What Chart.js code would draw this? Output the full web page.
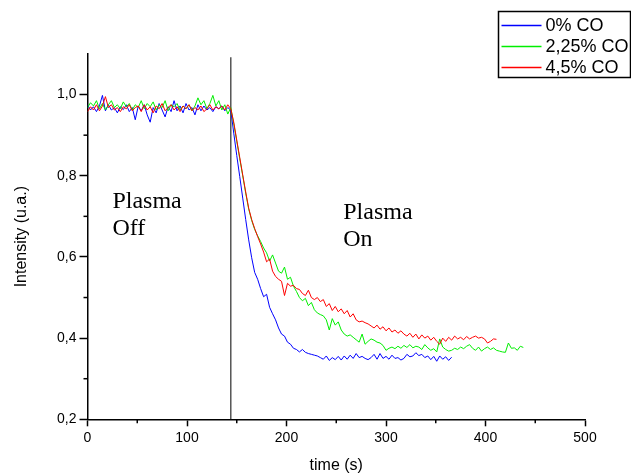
<!DOCTYPE html>
<html>
<head>
<meta charset="utf-8">
<script src="https://cdn.jsdelivr.net/npm/chart.js@4.4.1/dist/chart.umd.min.js"></script>
<style>
  html, body { margin: 0; padding: 0; background: #fff; }
  canvas { display: block; }
</style>
</head>
<body>
<canvas id="myChart" width="631" height="475"></canvas>
<script>
// sample times (s), shared by the three runs
var times = [
    0, 3, 6, 9, 12, 15, 18, 21, 24, 27,
    30, 33, 36, 39, 42, 45, 48, 51, 54, 57,
    60, 63, 66, 69, 72, 75, 78, 81, 84, 87,
    90, 93, 96, 99, 102, 105, 108, 111, 114, 117,
    120, 123, 126, 129, 132, 135, 138, 141, 144, 147,
    150, 153, 156, 159, 162, 165, 168, 171, 174, 177,
    180, 183, 186, 189, 192, 195, 198, 201, 204, 207,
    210, 213, 216, 219, 222, 225, 228, 231, 234, 237,
    240, 243, 246, 249, 252, 255, 258, 261, 264, 267,
    270, 273, 276, 279, 282, 285, 288, 291, 294, 297,
    300, 303, 306, 309, 312, 315, 318, 321, 324, 327,
    330, 333, 336, 339, 342, 345, 348, 351, 354, 357,
    360, 363, 366, 369, 372, 375, 378, 381, 384, 387,
    390, 393, 396, 399, 402, 405, 408, 411, 414, 417,
    420, 423, 426, 429, 432, 435, 438
];

var co0 = [
    0.975, 0.962, 0.970, 0.958, 0.972, 0.998, 0.960, 0.975, 0.962, 0.968,
    0.955, 0.970, 0.963, 0.975, 0.958, 0.968, 0.938, 0.972, 0.960, 0.975,
    0.950, 0.932, 0.968, 0.955, 0.978, 0.962, 0.945, 0.970, 0.958, 0.985,
    0.960, 0.972, 0.955, 0.978, 0.962, 0.968, 0.950, 0.975, 0.960, 0.972,
    0.962, 0.968, 0.958, 0.970, 0.965, 0.972, 0.960, 0.968, 0.962, 0.905,
    0.850, 0.798, 0.745, 0.692, 0.642, 0.598, 0.562, 0.545, 0.522, 0.502,
    0.508, 0.476, 0.460, 0.445, 0.425, 0.410, 0.405, 0.390, 0.385, 0.375,
    0.372, 0.366, 0.372, 0.365, 0.362, 0.360, 0.358, 0.356, 0.352, 0.348,
    0.356, 0.345, 0.352, 0.347, 0.355, 0.346, 0.356, 0.348, 0.358, 0.350,
    0.362, 0.352, 0.355, 0.350, 0.347, 0.352, 0.360, 0.348, 0.362, 0.350,
    0.355, 0.348, 0.358, 0.350, 0.352, 0.346, 0.350, 0.360, 0.354, 0.356,
    0.364, 0.357, 0.360, 0.352, 0.356, 0.347, 0.355, 0.343, 0.356, 0.348,
    0.354, 0.345, 0.353
];

var co225 = [
    0.968, 0.980, 0.972, 0.985, 0.965, 0.978, 0.962, 0.975, 0.985, 0.968,
    0.975, 0.965, 0.982, 0.970, 0.978, 0.962, 0.975, 0.968, 0.985, 0.965,
    0.978, 0.970, 0.982, 0.962, 0.975, 0.968, 0.985, 0.960, 0.975, 0.970,
    0.978, 0.962, 0.972, 0.965, 0.975, 0.960, 0.972, 0.992, 0.975, 0.985,
    0.965, 0.978, 0.998, 0.972, 0.985, 0.962, 0.975, 0.952, 0.968, 0.928,
    0.885, 0.842, 0.800, 0.757, 0.718, 0.690, 0.668, 0.652, 0.638, 0.622,
    0.610, 0.590, 0.605, 0.585, 0.565, 0.560, 0.575, 0.545, 0.550, 0.528,
    0.515, 0.500, 0.492, 0.498, 0.480, 0.488, 0.470, 0.462, 0.458, 0.455,
    0.445, 0.420, 0.448, 0.432, 0.440, 0.420, 0.410, 0.405, 0.408, 0.402,
    0.396, 0.390, 0.410, 0.385, 0.392, 0.398, 0.395, 0.390, 0.388, 0.382,
    0.370, 0.375, 0.378, 0.374, 0.380, 0.375, 0.382, 0.377, 0.384, 0.376,
    0.380, 0.378, 0.372, 0.384, 0.376, 0.370, 0.374, 0.366, 0.398, 0.378,
    0.372, 0.368, 0.370, 0.375, 0.372, 0.378, 0.374, 0.380, 0.384, 0.375,
    0.370, 0.378, 0.368, 0.374, 0.378, 0.372, 0.376, 0.370, 0.368, 0.366,
    0.365, 0.388, 0.375, 0.376, 0.370, 0.380, 0.377
];

var co45 = [
    0.958, 0.970, 0.962, 0.975, 0.960, 0.972, 0.995, 0.968, 0.975, 0.962,
    0.968, 0.958, 0.970, 0.965, 0.975, 0.960, 0.968, 0.972, 0.958, 0.975,
    0.962, 0.970, 0.955, 0.972, 0.965, 0.978, 0.960, 0.968, 0.975, 0.962,
    0.970, 0.958, 0.972, 0.965, 0.975, 0.960, 0.968, 0.962, 0.972, 0.958,
    0.965, 0.975, 0.962, 0.970, 0.965, 0.972, 0.962, 0.975, 0.965, 0.932,
    0.888, 0.845, 0.802, 0.760, 0.720, 0.692, 0.670, 0.650, 0.632, 0.612,
    0.588, 0.595, 0.565, 0.552, 0.545, 0.540, 0.505, 0.535, 0.528, 0.530,
    0.522, 0.520, 0.510, 0.505, 0.518, 0.500, 0.495, 0.500, 0.490, 0.495,
    0.478, 0.485, 0.468, 0.478, 0.465, 0.472, 0.460, 0.468, 0.452, 0.460,
    0.445, 0.440, 0.442, 0.438, 0.435, 0.430, 0.425, 0.432, 0.422, 0.428,
    0.418, 0.425, 0.415, 0.420, 0.412, 0.418, 0.410, 0.405, 0.412, 0.402,
    0.410, 0.398, 0.408, 0.400, 0.405, 0.395, 0.402, 0.392, 0.385, 0.400,
    0.392, 0.402, 0.395, 0.405, 0.398, 0.402, 0.396, 0.404, 0.398, 0.402,
    0.405, 0.400, 0.402, 0.398, 0.388, 0.392, 0.398, 0.397
];

var seriesLabels = ['0% CO', '2,25% CO', '4,5% CO'];
var seriesColors = ['#0000ff', '#00ee00', '#ff0000'];

// plasma switched on at t = 144 s
var plasmaOnTime = 144;
var markerRange = [0.2, 1.092];

var xTicks = [0, 100, 200, 300, 400, 500];
var xMinorTicks = [50, 150, 250, 350, 450];
var yTicks = [0.2, 0.4, 0.6, 0.8, 1.0];
var yMinorTicks = [0.3, 0.5, 0.7, 0.9];

var notes = [
    {lines: ['Plasma', 'Off'], t: 25, v: 0.72},
    {lines: ['Plasma', 'On'], t: 257, v: 0.694}
];

function toPoints(values) {
    return values.map(function (v, i) {
        return {x: times[i], y: v};
    });
}

var sansFont = "'Liberation Sans', Arial, sans-serif";

// minor ticks, text notes and the boxed legend, Origin style
var decorations = {
    id: 'decorations',
    afterDraw: function (chart) {
        var ctx = chart.ctx;
        var xs = chart.scales.x, ys = chart.scales.y;
        var area = chart.chartArea;
        ctx.save();
        ctx.strokeStyle = '#000';
        ctx.lineWidth = 1.5;
        xMinorTicks.forEach(function (t) {
            var px = xs.getPixelForValue(t);
            ctx.beginPath();
            ctx.moveTo(px, area.bottom);
            ctx.lineTo(px, area.bottom + 4);
            ctx.stroke();
        });
        yMinorTicks.forEach(function (v) {
            var py = ys.getPixelForValue(v);
            ctx.beginPath();
            ctx.moveTo(area.left, py);
            ctx.lineTo(area.left - 4, py);
            ctx.stroke();
        });

        ctx.fillStyle = '#000';
        ctx.font = "24px 'Liberation Serif', 'Times New Roman', serif";
        ctx.textBaseline = 'alphabetic';
        ctx.textAlign = 'left';
        notes.forEach(function (n) {
            var px = xs.getPixelForValue(n.t);
            var py = ys.getPixelForValue(n.v);
            n.lines.forEach(function (line, k) {
                ctx.fillText(line, px, py + k * 27);
            });
        });

        // legend box
        var bx = 498.5, by = 11.5, bw = 132, bh = 66;
        ctx.lineWidth = 1.5;
        ctx.strokeStyle = '#000';
        ctx.strokeRect(bx, by, bw, bh);
        ctx.font = '18px ' + sansFont;
        ctx.textBaseline = 'middle';
        seriesLabels.forEach(function (label, i) {
            var ry = by + 14 + i * 21;
            ctx.beginPath();
            ctx.strokeStyle = seriesColors[i];
            ctx.lineWidth = 1.5;
            ctx.moveTo(bx + 3, ry);
            ctx.lineTo(bx + 43, ry);
            ctx.stroke();
            ctx.fillStyle = '#000';
            ctx.fillText(label, bx + 47, ry + 1);
        });
        ctx.restore();
    }
};

var ctx = document.getElementById('myChart').getContext('2d');
var myChart = new Chart(ctx, {
    type: 'line',
    data: {
        datasets: [{
                label: seriesLabels[0],
                data: toPoints(co0),
                borderColor: seriesColors[0],
                borderWidth: 1,
                order: 3
            }, {
                label: seriesLabels[1],
                data: toPoints(co225),
                borderColor: seriesColors[1],
                borderWidth: 1,
                order: 2
            }, {
                label: seriesLabels[2],
                data: toPoints(co45),
                borderColor: seriesColors[2],
                borderWidth: 1,
                order: 1
            }, {
                label: 'plasma on',
                data: [{x: plasmaOnTime, y: markerRange[0]}, {x: plasmaOnTime, y: markerRange[1]}],
                borderColor: '#555555',
                borderWidth: 1.5,
                order: 4
            }]
    },
    options: {
        responsive: false,
        animation: false,
        devicePixelRatio: 1,
        layout: {
            padding: {left: 0, top: 54, right: 46, bottom: 0}
        },
        elements: {
            point: {radius: 0},
            line: {tension: 0, fill: false}
        },
        scales: {
            x: {
                type: 'linear',
                min: 0,
                max: 500,
                afterBuildTicks: function (s) {
                    s.ticks = xTicks.map(function (v) { return {value: v}; });
                },
                afterFit: function (s) { s.height = 55.7; },
                ticks: {
                    color: '#000',
                    font: {family: sansFont, size: 14},
                    padding: 3,
                    maxRotation: 0
                },
                grid: {
                    drawOnChartArea: false,
                    drawTicks: true,
                    tickLength: 7,
                    tickColor: '#000',
                    tickWidth: 1.5
                },
                border: {display: true, color: '#000', width: 1.5},
                title: {
                    display: true,
                    text: 'time (s)',
                    color: '#000',
                    font: {family: sansFont, size: 16},
                    padding: {top: 0, bottom: 0}
                }
            },
            y: {
                type: 'linear',
                min: 0.2,
                max: 1.1,
                afterBuildTicks: function (s) {
                    s.ticks = yTicks.map(function (v) { return {value: v}; });
                },
                afterFit: function (s) { s.width = 87.5; },
                ticks: {
                    color: '#000',
                    font: {family: sansFont, size: 14},
                    padding: 3,
                    callback: function (value) {
                        return value.toFixed(1).replace('.', ',');
                    }
                },
                grid: {
                    drawOnChartArea: false,
                    drawTicks: true,
                    tickLength: 8,
                    tickColor: '#000',
                    tickWidth: 1.5
                },
                border: {display: true, color: '#000', width: 1.5},
                title: {
                    display: true,
                    text: 'Intensity (u.a.)',
                    color: '#000',
                    font: {family: sansFont, size: 16},
                    padding: {top: 12, bottom: 0}
                }
            }
        },
        plugins: {
            legend: {display: false},
            tooltip: {enabled: false}
        }
    },
    plugins: [decorations]
});
</script>
</body>
</html>
